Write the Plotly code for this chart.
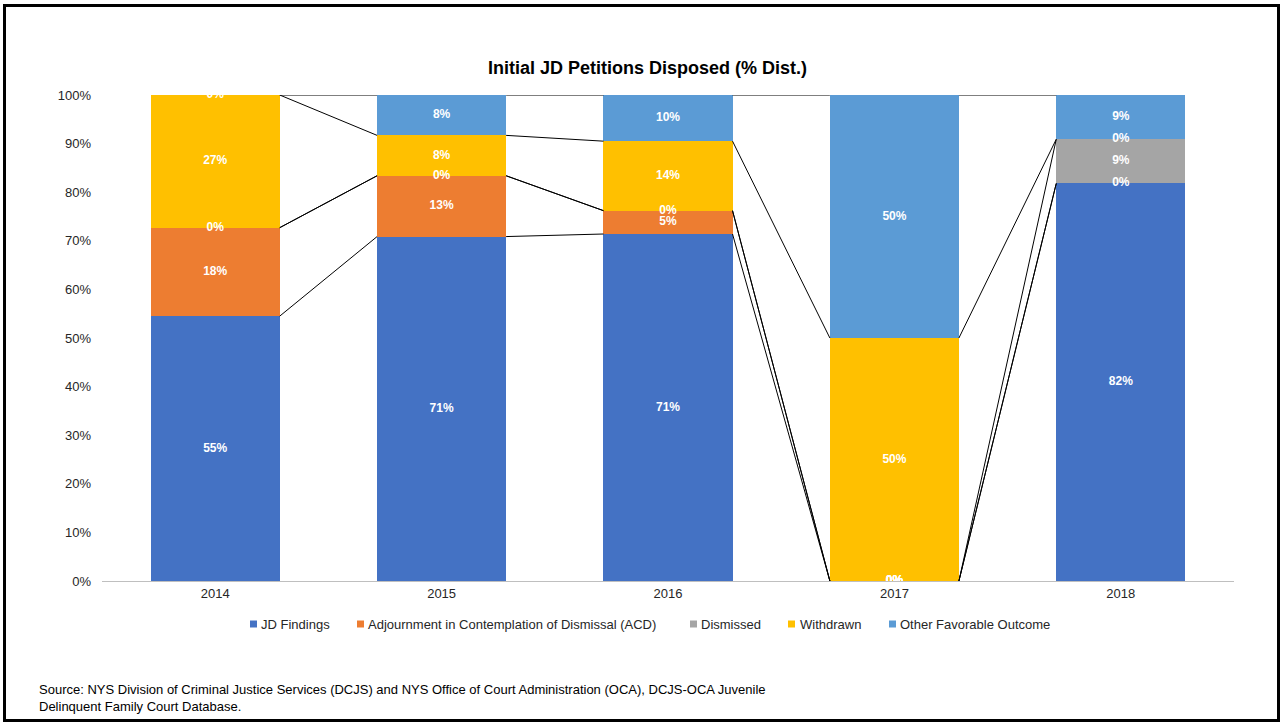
import plotly.graph_objects as go

# --- Data (percent of initial JD petitions disposed) ---
years = ["2014", "2015", "2016", "2017", "2018"]
series_names = ["JD Findings", "Adjournment in Contemplation of Dismissal (ACD)",
                "Dismissed", "Withdrawn", "Other Favorable Outcome"]
jd_findings = [54.5, 70.8, 71.4, 0.0, 81.8]
acd = [18.2, 12.5, 4.8, 0.0, 0.0]
dismissed = [0.0, 0.0, 0.0, 0.0, 9.1]
withdrawn = [27.3, 8.3, 14.3, 50.0, 0.0]
other_favorable = [0.0, 8.3, 9.5, 50.0, 9.1]
colors = ["#4472C4", "#ED7D31", "#A5A5A5", "#FFC000", "#5B9BD5"]

title_text = "Initial JD Petitions Disposed (% Dist.)"
source_text = ("Source: NYS Division of Criminal Justice Services (DCJS) and NYS Office of Court "
               "Administration (OCA), DCJS-OCA Juvenile<br>Delinquent Family Court Database.")

FONT = "Arial, Liberation Sans, sans-serif"
W, H = 1283, 725
L, R, T, B = 102, 1234, 95, 581
BAR_W = 0.57


def px_x(p):
    return (p - L) / (R - L)


def px_y(p):
    return (B - p) / (B - T)


all_series = [jd_findings, acd, dismissed, withdrawn, other_favorable]

# normalise each year to 100 (like Excel's 100% stacked bar)
totals = [sum(s[i] for s in all_series) for i in range(len(years))]
norm = [[s[i] / totals[i] * 100 for i in range(len(years))] for s in all_series]

xs = list(range(len(years)))
fig = go.Figure()

for name, vals, color in zip(series_names, all_series, colors):
    fig.add_trace(go.Bar(
        x=xs, y=vals, name=name, width=BAR_W,
        marker=dict(color=color, line=dict(width=0)),
        showlegend=False, hoverinfo="skip",
    ))

# series lines between adjacent bars
cum = [0.0] * len(years)
tops = []
for s in norm:
    cum = [c + v for c, v in zip(cum, s)]
    tops.append(list(cum))

for top in tops:
    lx, ly = [], []
    for i in range(len(years) - 1):
        lx += [xs[i] + BAR_W / 2, xs[i + 1] - BAR_W / 2, None]
        ly += [top[i], top[i + 1], None]
    fig.add_trace(go.Scatter(x=lx, y=ly, mode="lines",
                             line=dict(color="black", width=1),
                             showlegend=False, hoverinfo="skip"))

# data labels
lab_x, lab_y, lab_t = [], [], []
for k, s in enumerate(norm):
    for i in range(len(years)):
        lab_x.append(xs[i])
        lab_y.append(tops[k][i] - s[i] / 2)
        lab_t.append(f"{int(all_series[k][i] + 0.5)}%")
fig.add_trace(go.Scatter(x=lab_x, y=lab_y, text=lab_t, mode="text",
                         textfont=dict(color="white", size=12, family=FONT),
                         texttemplate="<b>%{text}</b>",
                         cliponaxis=True, showlegend=False, hoverinfo="skip"))

# manual legend (small squares + labels)
legend_sq_x = [250, 357, 690, 788, 889]
legend_txt_x = [259, 366, 699, 798, 898]
leg_y = 624
shapes = []
annotations = []
for name, color, sx, tx in zip(series_names, colors, legend_sq_x, legend_txt_x):
    shapes.append(dict(type="rect", xref="paper", yref="paper",
                       x0=px_x(sx), x1=px_x(sx + 7), y0=px_y(leg_y + 3.5), y1=px_y(leg_y - 3.5),
                       fillcolor=color, line=dict(width=0)))
    annotations.append(dict(text=name, xref="paper", yref="paper", x=px_x(tx), y=px_y(leg_y),
                            xanchor="left", yanchor="middle", showarrow=False,
                            font=dict(size=13, color="#262626", family=FONT)))

# outer border
shapes.append(dict(type="rect", xref="paper", yref="paper",
                   x0=px_x(4.5), x1=px_x(1278.5), y0=px_y(720.5), y1=px_y(5.5),
                   line=dict(color="black", width=3), fillcolor="rgba(0,0,0,0)"))

annotations.append(dict(text=source_text, xref="paper", yref="paper",
                        x=px_x(37), y=px_y(680), xanchor="left", yanchor="top",
                        align="left", showarrow=False,
                        font=dict(size=13, color="black", family=FONT)))

fig.update_layout(
    width=W, height=H,
    barmode="stack", barnorm="percent",
    title=dict(text=f"<b>{title_text}</b>", x=647.5 / W, xanchor="center",
               y=1 - 68 / H, yanchor="middle", xref="container", yref="container",
               font=dict(size=18, color="black", family=FONT)),
    margin=dict(l=L, r=W - R, t=T, b=H - B, pad=0),
    paper_bgcolor="white", plot_bgcolor="white",
    font=dict(family=FONT, size=13, color="#404040"),
    xaxis=dict(range=[-0.5, len(years) - 0.5], tickvals=xs, ticktext=years,
               showgrid=False, zeroline=False, showline=True, linecolor="#BFBFBF",
               linewidth=1, ticks="", tickfont=dict(size=13, color="#262626")),
    yaxis=dict(range=[0, 100], dtick=10, ticksuffix="%", showgrid=False,
               zeroline=False, showline=False, ticks="", ticklabelstandoff=10,
               tickfont=dict(size=13, color="#262626")),
    shapes=shapes, annotations=annotations,
    showlegend=False,
)

# drop the default 8px body margin so the figure sits at the window origin
fig.write_html("out.html", config={"displayModeBar": False},
               post_script="document.body.style.margin='0';")
